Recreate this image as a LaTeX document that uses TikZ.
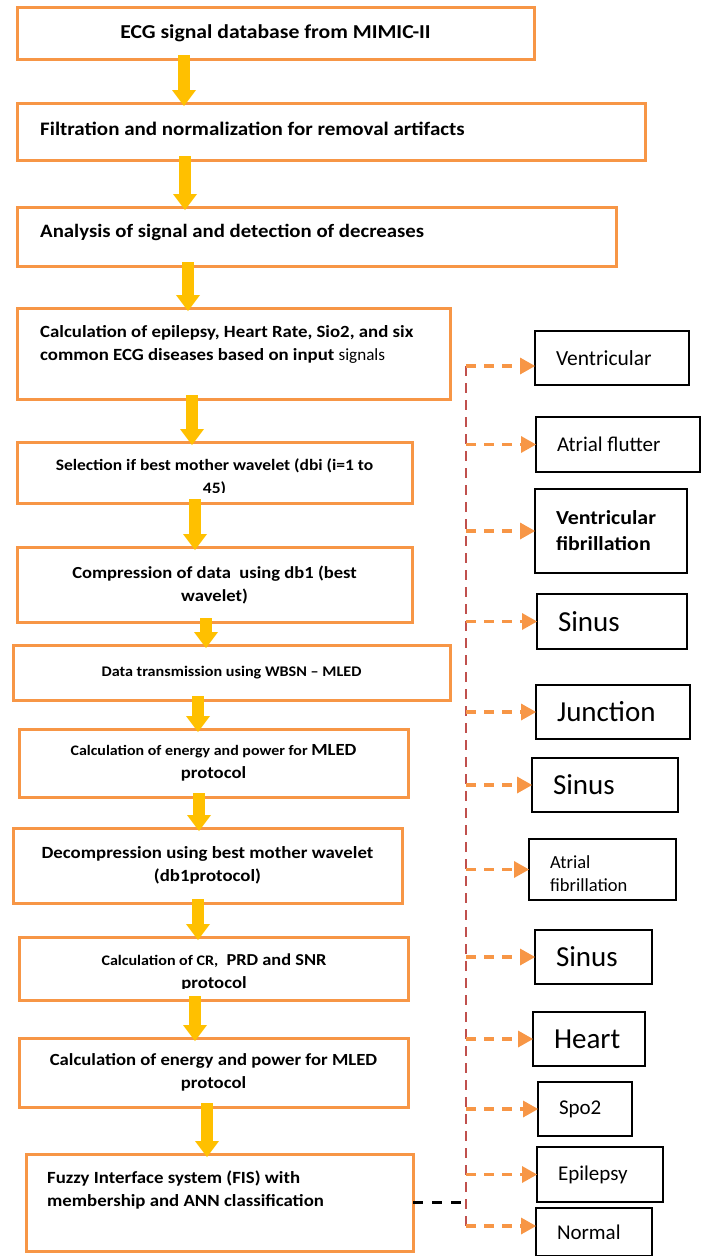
\documentclass[tikz,border=0pt]{standalone}
\usepackage{fontspec}
\setmainfont{Carlito}[BoldFeatures={FakeStretch=1.1}]
\usetikzlibrary{arrows.meta,positioning,calc}
\definecolor{boxorange}{RGB}{247,150,70}
\definecolor{flowgold}{RGB}{255,192,0}
\definecolor{railred}{RGB}{192,80,77}

\begin{document}
\begin{tikzpicture}[x=1pt,y=-1pt,
  obox/.style={draw=boxorange,line width=3pt,outer sep=0pt,inner sep=0pt},
  kbox/.style={draw=black,line width=2pt,outer sep=0pt,inner xsep=21pt,inner ysep=0pt,align=flush left},
  flow/.style={flowgold,line width=12pt,-{Triangle[width=24pt,length=16pt,line width=0pt]},shorten <=-4pt,shorten >=-3pt},
  branch/.style={boxorange,line width=3.5pt,dash pattern=on 10pt off 8pt,-{Triangle[width=17pt,length=15pt,line width=0pt]}},
  rail/.style={railred,line width=2.5pt,dash pattern=on 10pt off 7pt},
  bt/.style={font=\bfseries\fontsize{#1}{23}\selectfont},
  rt/.style={font=\fontsize{#1}{23}\selectfont}
]
\useasboundingbox (0,0) rectangle (702,1256);
% processing chain
\node[obox,minimum width=517pt,minimum height=52pt,bt=19.7] (b1) at (275.5,33) {ECG signal database from MIMIC-II};
\node[obox,minimum width=628pt,minimum height=57pt] (b2) at (331,131.5) {};
\node[bt=19.1,anchor=west,inner sep=0pt] (t2) at (40,128.5) {Filtration and normalization for removal artifacts};
\node[obox,minimum width=599pt,minimum height=59pt] (b3) at (316.5,236.5) {};
\node[bt=18.9,anchor=west,inner sep=0pt] (t3) at (40,232.5) {Analysis of signal and detection of decreases};
\node[obox,minimum width=433pt,minimum height=91pt] (b4) at (233.5,353.5) {};
\node[bt=17.1,align=flush left,anchor=west,inner sep=0pt] (t4) at (40,344) {Calculation of epilepsy, Heart Rate, Sio2, and six\\common ECG diseases based on input \mdseries signals};
\node[obox,minimum width=395pt,minimum height=61pt] (b5) at (214.5,472.5) {};
\begin{scope}
  \clip ([xshift=2pt,yshift=-2pt]b5.north west) rectangle ([xshift=-2pt,yshift=11pt]b5.south east);
  \node[bt=15.9,align=center] (t5) at (214.5,477) {Selection if best mother wavelet (dbi (i=1 to\\45)};
\end{scope}
\node[obox,minimum width=395pt,minimum height=75pt,align=center,bt=16.9] (b6) at (214.5,584.5) {Compression of data\ \ using db1 (best\\wavelet)};
\node[obox,minimum width=437pt,minimum height=55pt,bt=14.7] (b7) at (231.5,672.5) {Data transmission using WBSN -- MLED};
\node[obox,minimum width=389pt,minimum height=68pt,align=center,bt=14.5] (b8) at (213.5,763) {Calculation of energy and power for {\fontsize{17}{23}\selectfont MLED}\\{\fontsize{17}{23}\selectfont protocol}};
\node[obox,minimum width=389pt,minimum height=75pt,align=center,bt=17.1] (b9) at (207.5,865.5) {Decompression using best mother wavelet\\(db1protocol)};
\node[obox,minimum width=389pt,minimum height=63pt] (b10) at (213.5,968.5) {};
\begin{scope}
  \clip ([xshift=2pt,yshift=-2pt]b10.north west) rectangle ([xshift=-2pt,yshift=12pt]b10.south east);
  \node[bt=16.7,align=center] (t10) at (214,972.5) {{\fontsize{14.6}{23}\selectfont Calculation of CR,}\ \ PRD and SNR\\{\fontsize{17}{23}\selectfont protocol}};
\end{scope}
\node[obox,minimum width=389pt,minimum height=69pt,align=center,bt=17] (b11) at (213.5,1072.5) {Calculation of energy and power for MLED\\protocol};
\node[obox,minimum width=387pt,minimum height=97pt] (b12) at (219.5,1202.5) {};
\node[bt=17.1,align=flush left,anchor=west,inner sep=0pt] (t12) at (47,1190) {Fuzzy Interface system (FIS) with\\membership and ANN classification};
% arrows down the chain
\foreach \a/\b/\x in {b1/b2/184,b2/b3/185,b3/b4/188,b4/b5/192,b5/b6/195,b6/b7/206,b7/b8/198,b8/b9/199,b9/b10/198,b10/b11/195,b11/b12/207}
  \draw[flow] (\a.south -| \x,0) -- (\b.north -| \x,0);
% classes
\node[kbox,minimum width=154pt,minimum height=54pt,text width=112pt,rt=21.5] (r1) at (612,358) {Ventricular};
\node[kbox,minimum width=164pt,minimum height=55pt,text width=122pt,rt=21] (r2) at (618,444.5) {Atrial flutter};
\node[kbox,minimum width=152pt,minimum height=84pt,text width=110pt,font=\bfseries\fontsize{19.9}{26}\selectfont] (r3) at (611,531) {Ventricular\\fibrillation};
\node[kbox,minimum width=150pt,minimum height=55pt,text width=108pt,rt=29] (r4) at (612,621.5) {Sinus};
\node[kbox,minimum width=154pt,minimum height=54pt,text width=112pt,rt=29] (r5) at (613,712) {Junction};
\node[kbox,minimum width=146pt,minimum height=54pt,text width=104pt,rt=29] (r6) at (605,785) {Sinus};
\node[kbox,minimum width=147pt,minimum height=61pt] (r7) at (602.5,869.5) {};
\begin{scope}
  \clip ([xshift=2pt,yshift=-2pt]r7.north west) rectangle ([xshift=-2pt,yshift=10pt]r7.south east);
  \node[rt=18.5,align=flush left,anchor=west,inner sep=0pt] (t7) at (550,873.5) {Atrial\\fibrillation};
\end{scope}
\node[kbox,minimum width=117pt,minimum height=54pt,text width=75pt,rt=29] (r8) at (593.5,957) {Sinus};
\node[kbox,minimum width=112pt,minimum height=54pt,text width=70pt,rt=29] (r9) at (589,1039) {Heart};
\node[kbox,minimum width=94pt,minimum height=54pt,text width=52pt,rt=21] (r10) at (585,1109) {Spo2};
\node[kbox,minimum width=126pt,minimum height=55pt,text width=84pt,rt=21] (r11) at (600,1174.5) {Epilepsy};
\node[kbox,minimum width=116pt,minimum height=48pt,text width=74pt,rt=21] (r12) at (594,1232) {Normal};
% dashed links to the classes
\coordinate (railtop) at (466,366);
\coordinate (railbot) at (466,1226);
\draw[rail] (railtop) -- (railbot);
\draw[branch] (railtop) -- (railtop -| r1.west);
\foreach \r in {r2,r3,r4,r5,r6,r7,r8,r9,r10,r11}
  \draw[branch] (railtop |- \r.west) -- (\r.west);
\draw[branch] (railbot) -- (railbot -| r12.west);
\draw[black,line width=3pt,dash pattern=on 10pt off 9pt] (b12.east) -- (b12.east -| railbot);
\end{tikzpicture}
\end{document}
